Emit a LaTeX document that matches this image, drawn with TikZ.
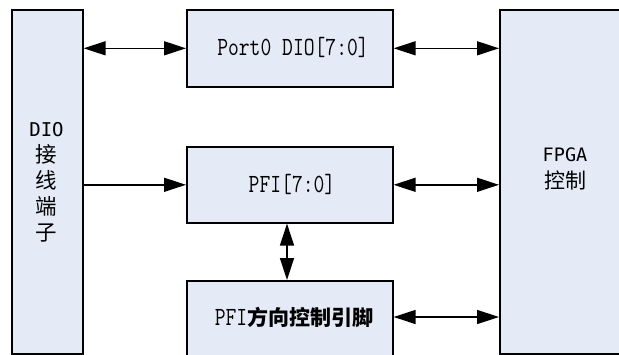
\documentclass[tikz,border=0pt]{standalone}
\usepackage{fontspec}
\usetikzlibrary{arrows.meta}
\newfontfamily\cjk{Noto Sans CJK SC}
\newfontfamily\sansmono{DejaVu Sans Mono}
\definecolor{boxfill}{HTML}{E5EBF6}
\newcommand{\sermono}[1]{\scalebox{1}[1.25]{\ttfamily\fontsize{21}{26}\selectfont #1}}
\tikzset{
  blk/.style={draw=black, fill=boxfill, line width=1.6pt, inner sep=0pt, anchor=north west},
  conn/.style={line width=1.4pt, -{Triangle[length=22pt,width=14pt]}},
  biconn/.style={line width=1.4pt, {Triangle[length=22pt,width=14pt]}-{Triangle[length=22pt,width=14pt]}},
  lbl/.style={inner sep=0pt, align=center}
}
\begin{document}
\begin{tikzpicture}[x=1pt,y=-1pt]
\useasboundingbox (0,0) rectangle (619,354);
\clip (0,0) rectangle (619,354);
% boxes
\node[blk, minimum width=71pt, minimum height=344pt] (dio) at (11,9) {};
\node[blk, minimum width=206pt, minimum height=77pt] (port) at (186,9) {};
\node[blk, minimum width=206pt, minimum height=76pt] (pfi) at (186,146) {};
\node[blk, minimum width=206pt, minimum height=100pt] (dir) at (186,280) {};
\node[blk, minimum width=140pt, minimum height=344pt] (fpga) at (499,9) {};
% labels
\node[lbl, font=\cjk\fontsize{21.5}{26}\selectfont] (diot) at (46.5,182)
  {{\sansmono\fontsize{19}{26}\selectfont DIO}\\接\\线\\端\\子};
\node[lbl] (portt) at (293,47.5) {\sermono{Port0 DIO[7:0]}};
\node[lbl] (pfit) at (292,184) {\sermono{PFI[7:0]}};
\node[lbl] (dirt) at (294,317) {\sermono{PFI}{\cjk\bfseries\fontsize{21}{26}\selectfont 方向控制引脚}};
\node[lbl, font=\cjk\fontsize{21}{27}\selectfont] (fpgat) at (565,169)
  {{\sansmono\fontsize{18.5}{27}\selectfont FPGA}\\控制};
% connectors
\draw[biconn] (dio.east |- port.west) -- (port.west);
\draw[biconn] (port.east) -- (port.east -| fpga.west);
\draw[conn] (dio.east |- pfi.west) -- (pfi.west);
\draw[biconn] (pfi.south -| 287,0) -- (dir.north -| 287,0);
\draw[biconn] (pfi.east) -- (pfi.east -| fpga.west);
\draw[biconn] (dirt.east -| dir.east) -- (dirt.east -| fpga.west);
\end{tikzpicture}
\end{document}
